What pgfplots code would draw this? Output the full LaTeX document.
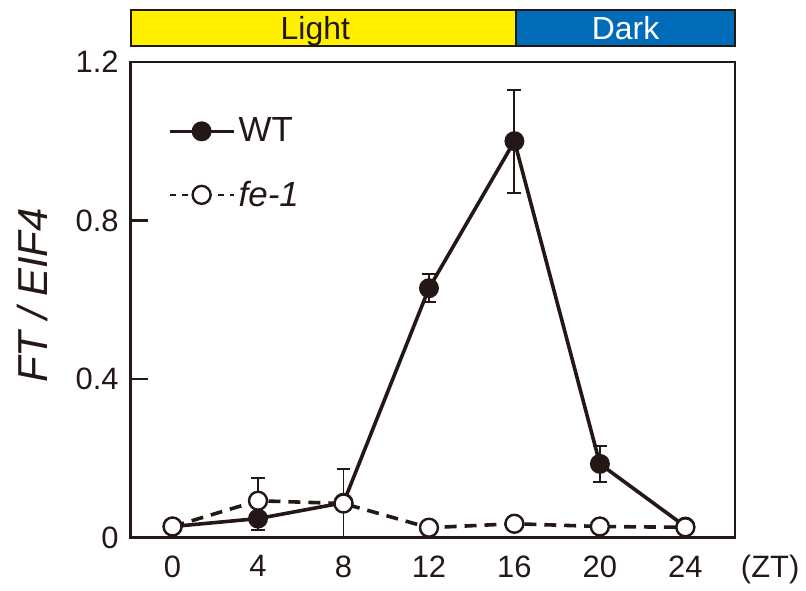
\documentclass[border=0pt]{standalone}
\usepackage{pgfplots}
\pgfplotsset{compat=1.18}
\usepackage{fontspec}
\setmainfont{Liberation Sans}
\definecolor{ink}{RGB}{35,24,21}
\definecolor{lightyel}{RGB}{255,240,0}
\definecolor{darkblue}{RGB}{0,108,183}
\begin{document}
\begin{tikzpicture}
\begin{axis}[
  scale only axis,
  width=303pt, height=238.5pt,
  xmin=-1.96, xmax=26.33, ymin=0, ymax=1.2,
  clip=false,
  axis line style={ink, line width=1.2pt},
  xtick={0,4,8,12,16,20,24},
  ytick={0,0.4,0.8,1.2},
  yticklabels={0,0.4,0.8,1.2},
  xtick style={draw=none},
  ytick pos=left,
  tick align=inside,
  major tick length=8.5pt,
  ytick style={ink, line width=1.2pt},
  /pgf/number format/assume math mode=true,
  ticklabel style={font=\fontsize{15.5}{18}\selectfont, text=ink},
  xticklabel style={yshift=-5.5pt},
  yticklabel style={xshift=-2.5pt},
  ylabel={\itshape FT / EIF4},
  ylabel style={font=\fontsize{21}{25}\selectfont, text=ink, at={(rel axis cs:-0.163,0.509)}, anchor=center},
  legend style={at={(rel axis cs:0.052,0.9)}, anchor=north west, draw=none, fill=none,
    font=\fontsize{17.5}{20}\selectfont, row sep=14pt, text=ink,
    /tikz/every even column/.append style={column sep=4pt}},
  legend cell align=left,
  legend image code/.code={\draw[mark repeat=2,mark phase=2,#1, line width=1.2pt] plot coordinates {(0pt,0pt) (16pt,0pt) (32pt,0pt)};},
]
% bounding box
\path (axis cs:-8.077,-0.1283) rectangle (axis cs:29.55,1.356);
% Light / Dark bar
\draw[ink, line width=1pt, fill=lightyel] (axis cs:-1.96,1.24) rectangle (axis cs:16.06,1.331);
\draw[ink, line width=1pt, fill=darkblue] (axis cs:16.06,1.24) rectangle (axis cs:26.33,1.331);
\node[font=\fontsize{16}{18}\selectfont, text=ink, anchor=base] at (axis cs:6.68,1.2555) {Light};
\node[font=\fontsize{16}{18}\selectfont, text=white, anchor=base] at (axis cs:21.2,1.2555) {Dark};
\node[font=\fontsize{15.5}{18}\selectfont, text=ink] at (axis cs:27.97,-0.08) {(ZT)};

\addplot[ink, line width=1.8pt, mark=*, mark size=4.5pt, mark options={solid, fill=ink, line width=1pt},
  error bars/.cd, y dir=both, y explicit,
  error bar style={ink, line width=1pt},
  error mark options={rotate=90, mark size=3.5pt, line width=1pt, ink}]
  table[x=x, y=y, y error=e] {
x y e
0 0.028 0
4 0.048 0.03
8 0.088 0.086
12 0.629 0.035
16 1.0 0.13
20 0.186 0.046
24 0.028 0
};
\addlegendentry{WT}
\addplot[ink, line width=1.8pt, dash pattern=on 6pt off 4pt, mark=*, mark size=4.5pt, mark options={solid, fill=white, line width=1.2pt},
  legend image post style={dash pattern=on 3pt off 3pt},
  error bars/.cd, y dir=both, y explicit,
  error bar style={ink, line width=1pt, solid},
  error mark options={rotate=90, mark size=3.5pt, line width=1pt, ink, solid}]
  table[x=x, y=y, y error=e] {
x y e
0 0.028 0
4 0.093 0.058
8 0.086 0
12 0.025 0
16 0.035 0
20 0.028 0
24 0.026 0
};
\addlegendentry{\itshape fe-1}
\end{axis}
\end{tikzpicture}
\end{document}
